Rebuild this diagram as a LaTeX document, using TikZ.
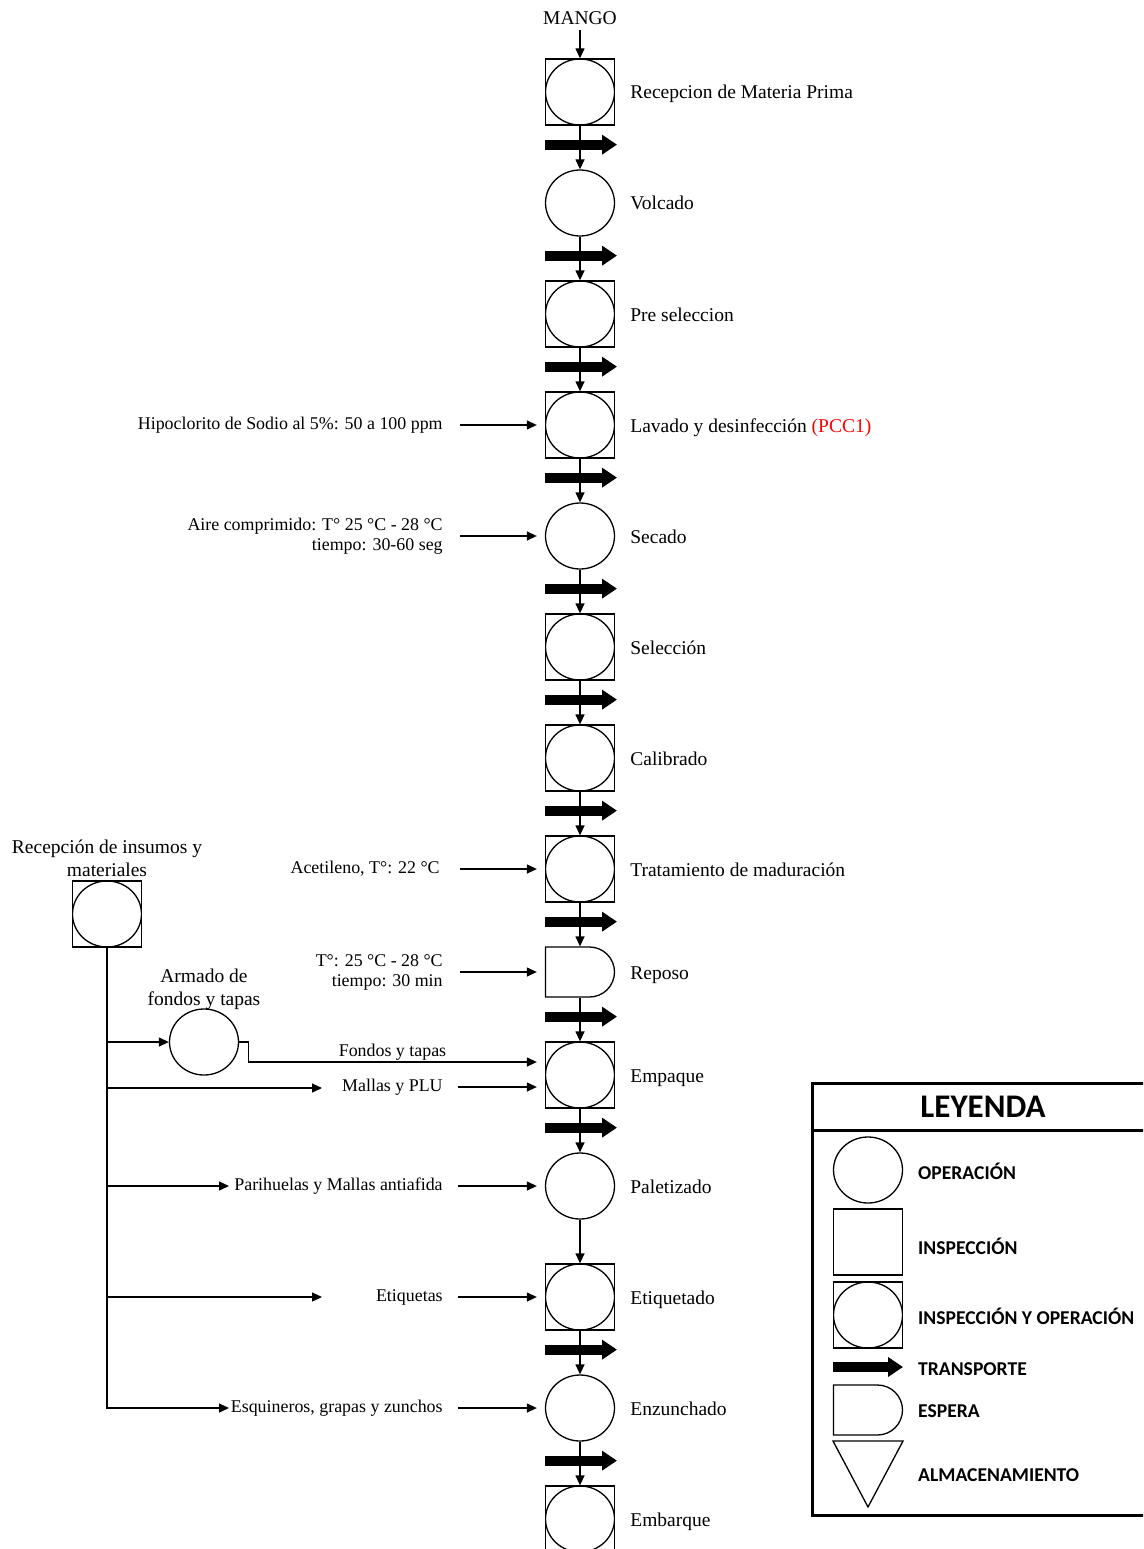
\documentclass[tikz,border=0pt]{standalone}
\usepackage{fontspec}
\setmainfont{Liberation Serif}
\newfontfamily\legfont{Carlito}
\usepackage{xcolor}
\definecolor{cLine}{HTML}{000000}
\definecolor{cPCC}{HTML}{FF0000}
\usepackage{tikz}
\usetikzlibrary{positioning,arrows.meta,shapes.geometric,shapes.misc}
\tikzset{
  node-op/.style={draw=cLine,line width=1.3pt,ellipse,inner sep=0pt,
    minimum width=69pt,minimum height=66pt},
  node-insp/.style={draw=cLine,line width=1.3pt,rectangle,inner sep=0pt,
    minimum width=69pt,minimum height=66pt},
  node-insp-op/.style={node-insp,path picture={
      \draw[line width=1.3pt] (path picture bounding box.center)
        ellipse [x radius=34.5pt,y radius=33pt];}},
  node-wait/.style={draw=cLine,line width=1.3pt,rounded rectangle,
    rounded rectangle left arc=none,inner sep=0pt,
    minimum width=69pt,minimum height=50pt},
  % textos del diagrama
  lbl/.style={inner sep=0pt,anchor=west,text height=14pt,text depth=0pt,
    font=\fontsize{19.5}{21}\selectfont},
  lbl-in/.style={inner sep=0pt,align=right,font=\fontsize{17.9}{20}\selectfont},
  lbl-top/.style={inner sep=0pt,align=center,font=\fontsize{19.5}{23}\selectfont},
  lbl-line/.style={inner sep=0pt,font=\fontsize{17.9}{20}\selectfont},
  lbl-leg/.style={inner sep=0pt,anchor=west,font=\legfont\bfseries\fontsize{19.6}{21}\selectfont},
  leg-title/.style={inner sep=0pt,font=\legfont\bfseries\fontsize{33}{36}\selectfont},
  arrow/.style={-{Triangle[length=10pt,width=9pt]},line width=1.3pt,draw=cLine},
  arrow-transport/.style={-{Triangle[length=15pt,width=19pt]},line width=10pt,draw=cLine},
}

\begin{document}
\begin{tikzpicture}[x=1pt,y=-1pt]
  \useasboundingbox (0,0) rectangle (1143,1549);
  \clip (0,0) rectangle (1143,1549);

  % columna principal
  \node[lbl-top] (mango) at (580,18) {MANGO};
  \node[node-insp-op] (rec) at (580,92) {};
  \node[node-op,below=43.7pt of rec] (vol) {};
  \node[node-insp-op,below=43.7pt of vol] (pre) {};
  \node[node-insp-op,below=43.7pt of pre] (lav) {};
  \node[node-op,below=43.7pt of lav] (sec) {};
  \node[node-insp-op,below=43.7pt of sec] (sel) {};
  \node[node-insp-op,below=43.7pt of sel] (cal) {};
  \node[node-insp-op,below=43.7pt of cal] (tra) {};
  \node[node-wait,below=43.7pt of tra] (rep) {};
  \node[node-insp-op,below=43.7pt of rep] (emp) {};
  \node[node-op,below=43.7pt of emp] (pal) {};
  \node[node-insp-op,below=43.7pt of pal] (eti) {};
  \node[node-op,below=43.7pt of eti] (enz) {};
  \node[node-insp-op,below=43.7pt of enz] (emb) {};

  \node[lbl,right=15pt of rec] (rec-l) {Recepcion de Materia Prima};
  \node[lbl,right=15pt of vol] (vol-l) {Volcado};
  \node[lbl,right=15pt of pre] (pre-l) {Pre seleccion};
  \node[lbl,right=15pt of lav] (lav-l) {Lavado y desinfección \textcolor{cPCC}{(PCC1)}};
  \node[lbl,right=15pt of sec] (sec-l) {Secado};
  \node[lbl,right=15pt of sel] (sel-l) {Selección};
  \node[lbl,right=15pt of cal] (cal-l) {Calibrado};
  \node[lbl,right=15pt of tra] (tra-l) {Tratamiento de maduración};
  \node[lbl,right=15pt of rep] (rep-l) {Reposo};
  \node[lbl,right=15pt of emp] (emp-l) {Empaque};
  \node[lbl,right=15pt of pal] (pal-l) {Paletizado};
  \node[lbl,right=15pt of eti] (eti-l) {Etiquetado};
  \node[lbl,right=15pt of enz] (enz-l) {Enzunchado};
  \node[lbl,right=15pt of emb] (emb-l) {Embarque};

  \draw[arrow,shorten <=5pt] (mango) -- (rec);
  \draw[arrow] (rec) -- (vol);
  \draw[arrow] (vol) -- (pre);
  \draw[arrow] (pre) -- (lav);
  \draw[arrow] (lav) -- (sec);
  \draw[arrow] (sec) -- (sel);
  \draw[arrow] (sel) -- (cal);
  \draw[arrow] (cal) -- (tra);
  \draw[arrow] (tra) -- (rep);
  \draw[arrow] (rep) -- (emp);
  \draw[arrow] (emp) -- (pal);
  \draw[arrow] (pal) -- (eti);
  \draw[arrow] (eti) -- (enz);
  \draw[arrow] (enz) -- (emb);

  % transportes
  \draw[arrow-transport] ([xshift=-35pt,yshift=-19pt]rec.south) -- ++(72,0);
  \draw[arrow-transport] ([xshift=-35pt,yshift=-19pt]vol.south) -- ++(72,0);
  \draw[arrow-transport] ([xshift=-35pt,yshift=-19pt]pre.south) -- ++(72,0);
  \draw[arrow-transport] ([xshift=-35pt,yshift=-19pt]lav.south) -- ++(72,0);
  \draw[arrow-transport] ([xshift=-35pt,yshift=-19pt]sec.south) -- ++(72,0);
  \draw[arrow-transport] ([xshift=-35pt,yshift=-19pt]sel.south) -- ++(72,0);
  \draw[arrow-transport] ([xshift=-35pt,yshift=-19pt]cal.south) -- ++(72,0);
  \draw[arrow-transport] ([xshift=-35pt,yshift=-19pt]tra.south) -- ++(72,0);
  \draw[arrow-transport] ([xshift=-35pt,yshift=-19pt]rep.south) -- ++(72,0);
  \draw[arrow-transport] ([xshift=-35pt,yshift=-19pt]emp.south) -- ++(72,0);
  \draw[arrow-transport] ([xshift=-35pt,yshift=-19pt]eti.south) -- ++(72,0);
  \draw[arrow-transport] ([xshift=-35pt,yshift=-19pt]enz.south) -- ++(72,0);

  % entradas
  \node[lbl-in,left=102pt of lav] (lav-in) {Hipoclorito de Sodio al 5\%: 50 a 100 ppm};
  \node[lbl-in,left=102pt of sec] (sec-in) {Aire comprimido: T° 25 °C - 28 °C\\tiempo: 30-60 seg};
  \node[lbl-in,left=105pt of tra] (tra-in) {Acetileno, T°: 22 °C};
  \node[lbl-in,left=102pt of rep] (rep-in) {T°: 25 °C - 28 °C\\tiempo: 30 min};
  \node[lbl-in,left=102pt of emp,yshift=-12pt] (emp-in) {Mallas y PLU};
  \node[lbl-in,left=102pt of pal] (pal-in) {Parihuelas y Mallas antiafida};
  \node[lbl-in,left=102pt of eti] (eti-in) {Etiquetas};
  \node[lbl-in,left=102pt of enz] (enz-in) {Esquineros, grapas y zunchos};

  \draw[arrow,shorten <=17pt,shorten >=8pt] (lav-in) -- (lav);
  \draw[arrow,shorten <=17pt,shorten >=8pt] (sec-in) -- (sec);
  \draw[arrow,shorten <=20pt,shorten >=8pt] (tra-in) -- (tra);
  \draw[arrow,shorten <=17pt,shorten >=8pt] (rep-in) -- (rep);
  \draw[arrow,shorten <=15pt,shorten >=8pt] (emp-in) -- (emp-in -| emp.west);
  \draw[arrow,shorten <=15pt,shorten >=8pt] (pal-in) -- (pal);
  \draw[arrow,shorten <=15pt,shorten >=8pt] (eti-in) -- (eti);
  \draw[arrow,shorten <=15pt,shorten >=8pt] (enz-in) -- (enz);

  % insumos y materiales
  \node[node-insp-op] (ins) at (107,914) {};
  \node[lbl-top,above=3pt of ins] (ins-l) {Recepción de insumos y\\materiales};
  \node[node-op] (arm) at (204,1042) {};
  \node[lbl-top,above=-2pt of arm] (arm-l) {Armado de\\fondos y tapas};

  \coordinate (b-mal) at (322,1088);
  \coordinate (b-pal) at (229,1186);
  \coordinate (b-eti) at (322,1297);
  \coordinate (b-enz) at (229,1408);
  \coordinate (emp-top) at ([xshift=-8pt,yshift=13pt]emp.west);

  \draw[arrow] (ins.south) |- (b-enz);
  \draw[arrow] (ins.south |- arm) -- (arm);
  \draw[arrow] (ins.south |- b-mal) -- (b-mal);
  \draw[arrow] (ins.south |- b-pal) -- (b-pal);
  \draw[arrow] (ins.south |- b-eti) -- (b-eti);
  \draw[arrow] (arm.east) -- ++(9,0) |- (emp-top)
    node[lbl-line,pos=0.75,above=1pt] (fon) {Fondos y tapas};

  % leyenda
  \draw[line width=3pt] (812,1083) rectangle (1170,1515);
  \draw[line width=3pt] (812,1130) -- (1170,1130);
  \node[leg-title] (leg) at (983,1107) {LEYENDA};
  \node[node-op] (l-op) at (868,1170) {};
  \node[node-insp] (l-insp) at (868,1242) {};
  \node[node-insp-op] (l-io) at (868,1315) {};
  \coordinate (l-tr) at (833,1367);
  \draw[arrow-transport] (l-tr) -- ++(70,0);
  \node[node-wait] (l-wait) at (868,1410) {};
  \draw[line width=1.3pt] (833,1441) -- (903,1441) -- (868,1507) -- cycle;

  \node[lbl-leg] (l-op-t) at (918,1171) {OPERACIÓN};
  \node[lbl-leg] (l-insp-t) at (918,1246) {INSPECCIÓN};
  \node[lbl-leg] (l-io-t) at (918,1316) {INSPECCIÓN Y OPERACIÓN};
  \node[lbl-leg] (l-tr-t) at (918,1369) {TRANSPORTE};
  \node[lbl-leg] (l-wait-t) at (918,1411) {ESPERA};
  \node[lbl-leg] (l-alm-t) at (918,1475) {ALMACENAMIENTO};
\end{tikzpicture}
\end{document}
